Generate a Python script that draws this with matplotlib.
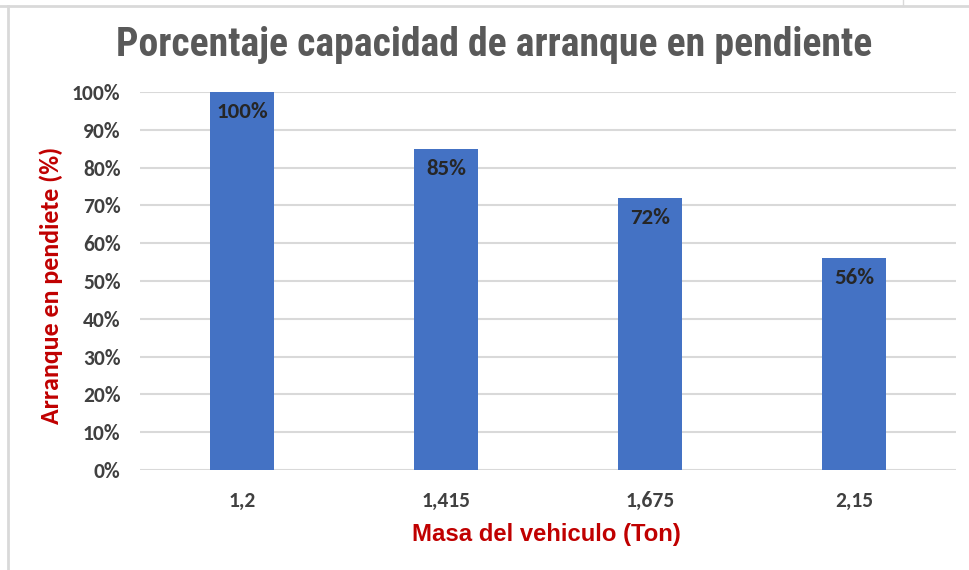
import matplotlib.pyplot as plt
from matplotlib.lines import Line2D

masas = ['1,2', '1,415', '1,675', '2,15']
arranque = [100, 85, 72, 56]
y_ticks = [0, 10, 20, 30, 40, 50, 60, 70, 80, 90, 100]

fig = plt.figure(figsize=(9.7, 5.7), dpi=100)
ax = fig.add_axes([0.1443, 0.1754, 0.8412, 0.6632])

x = list(range(len(masas)))
bars = ax.bar(x, arranque, width=0.314, color='#4472C4', zorder=3)

for b, v in zip(bars, arranque):
    ax.annotate(f'{v}%', (b.get_x() + b.get_width() / 2, v),
                xytext=(0, -14.5), textcoords='offset points',
                ha='center', va='center', fontsize=16.5, fontweight='bold',
                family='Carlito', color='#262626', zorder=4)

ax.set_xlim(-0.5, 3.5)
ax.set_ylim(0, 100)
ax.set_yticks(y_ticks)
ax.set_yticklabels([f'{t}%' for t in y_ticks])
ax.set_xticks(x)
ax.set_xticklabels(masas)
ax.grid(axis='y', color='#D9D9D9', lw=1.5, zorder=0)
ax.tick_params(length=0, labelsize=15.5, labelcolor='#404040')
ax.tick_params(axis='y', pad=14)
ax.tick_params(axis='x', pad=15)
for lab in ax.get_xticklabels() + ax.get_yticklabels():
    lab.set_fontweight('bold')
    lab.set_family('Carlito')
for s in ax.spines.values():
    s.set_visible(False)

fig.text(0.509, 0.921, 'Porcentaje capacidad de arranque en pendiente',
         ha='center', va='center', fontsize=28.6, fontweight='bold',
         family='Roboto Condensed', color='#595959')
fig.text(0.563, 0.062, 'Masa del vehiculo (Ton)', ha='center', va='center',
         fontsize=17.2, fontweight='bold', family='Liberation Sans',
         color='#C00000')
fig.text(0.053, 0.5, 'Arranque en pendiete (%)', ha='center', va='center',
         rotation=90, fontsize=18.6, fontweight='bold',
         family='Carlito', color='#C00000')

# outer frame lines
fig.add_artist(Line2D([0, 1], [1 - 6 / 570, 1 - 6 / 570], color='#D9D9D9', lw=2))
fig.add_artist(Line2D([8 / 970, 8 / 970], [0, 1 - 6 / 570], color='#D9D9D9', lw=2))
fig.add_artist(Line2D([903 / 970, 903 / 970], [1 - 6 / 570, 1], color='#D9D9D9', lw=1))

fig.savefig('out.png', dpi=100)
